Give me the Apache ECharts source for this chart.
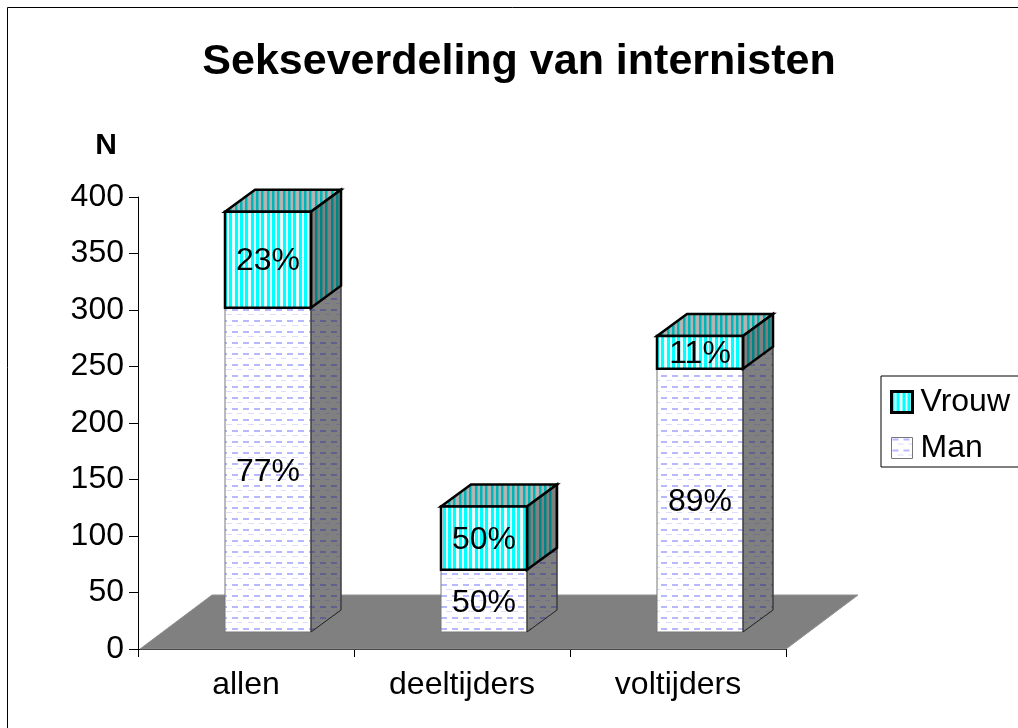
<!DOCTYPE html>
<html><head><meta charset="utf-8">
<style>html,body{margin:0;padding:0;background:#fff}#c{width:1018px;height:728px}</style>
<script src="https://cdn.jsdelivr.net/npm/echarts@6/dist/echarts.min.js"></script>
</head><body><div id="c"></div>
<script>
const categories = ['allen', 'deeltijders', 'voltijders'];
const manValues = [287, 55, 233];
const vrouwValues = [85, 56, 29];
const manLabels = ['77%', '50%', '89%'];
const vrouwLabels = ['23%', '50%', '11%'];
const yTicks = [0, 50, 100, 150, 200, 250, 300, 350, 400];

const FONT = '"Liberation Sans", Arial, sans-serif';
function stripes(a, b, w) {
  const c = document.createElement('canvas'); c.width = 16; c.height = 4;
  const g = c.getContext('2d');
  g.fillStyle = b; g.fillRect(0, 0, 16, 4);
  g.fillStyle = a; [0, 5, 11].forEach(x => g.fillRect(x, 0, w, 4));
  return {image: c, repeat: 'repeat'};
}
function dashes(bg, d1, d2) {
  const c = document.createElement('canvas'); c.width = 22; c.height = 11;
  const g = c.getContext('2d');
  g.fillStyle = bg; g.fillRect(0, 0, 22, 11);
  g.fillStyle = d1; g.fillRect(1, 1, 6, 2); g.fillRect(12, 1, 6, 2);
  g.fillStyle = d2; g.fillRect(6, 6, 6, 1); g.fillRect(17, 6, 5, 1);
  return {image: c, repeat: 'repeat'};
}
const vrouwFront = stripes('#00ffff', '#e4ffff', 3);
const vrouwTop = stripes('#00b5b5', '#b4b4b4', 2.5);
const vrouwSide = stripes('#008484', '#808080', 2.5);
const manFront = dashes('#ffffff', '#b8b8ff', '#dcdcff');
const manSide = dashes('#808080', '#606090', '#727090');

const BAR_W = 86, DX = 30, DY = -22, SHIFT_X = 22, SHIFT_Y = -17;

function barRender(front, top, side, border, lw, labels, edge) {
  return function (params, api) {
    const i = api.value(0);
    const p0 = api.coord([i, api.value(1)]);
    const p1 = api.coord([i, api.value(2)]);
    const l = p0[0] + SHIFT_X - BAR_W / 2, r = l + BAR_W;
    const b = p0[1] + SHIFT_Y, t = p1[1] + SHIFT_Y;
    const st = (fill, c, w) => ({fill, stroke: c, lineWidth: w, lineJoin: 'miter'});
    const children = [
      {type: 'polygon', shape: {points: [[l, t], [r, t], [r + DX, t + DY], [l + DX, t + DY]]}, style: st(top, border, lw)},
      {type: 'polygon', shape: {points: [[r, b], [r + DX, b + DY], [r + DX, t + DY], [r, t]]}, style: st(side, border, lw)},
      {type: 'rect', shape: {x: l, y: t, width: BAR_W, height: b - t}, style: st(front, border, lw)}
    ];
    if (edge) children.push({type: 'polyline', shape: {points: [[r + DX, t + DY], [r + DX, b + DY], [r, b], [r, t]]}, style: {fill: null, stroke: edge, lineWidth: 1}});
    children.push({type: 'text', x: (l + r) / 2, y: (t + b) / 2 + 2, style: {text: labels[i], fill: '#000', font: '32px ' + FONT, align: 'center', verticalAlign: 'middle'}});
    return {type: 'group', children};
  };
}
function floorRender(params, api) {
  const o = api.coord([0, 0]), e = api.coord([categories.length - 1, 0]), w = api.size([1, 0])[0];
  const l = o[0] - w / 2, r = e[0] + w / 2, y = o[1];
  return {type: 'polygon', shape: {points: [[l + 2, y], [r, y], [r + 72, y - 54], [l + 74, y - 54]]}, style: {fill: '#808080', stroke: '#909090', lineWidth: 1}};
}

const chart = echarts.init(document.getElementById('c'), null, {renderer: 'canvas'});
chart.setOption({
  animation: false,
  backgroundColor: '#fff',
  title: {text: 'Sekseverdeling van internisten', left: 514, top: 36, textAlign: 'center',
    textStyle: {fontFamily: FONT, fontSize: 43, fontWeight: 'bold', color: '#000'}},
  grid: {left: 138, right: 232, top: 197, bottom: 79},
  legend: {
    orient: 'vertical', left: 881, top: 376, padding: [10, 40, 3, 9],
    itemWidth: 21, itemHeight: 21, itemGap: 14, selectedMode: false,
    borderColor: '#000', borderWidth: 1,
    textStyle: {fontFamily: FONT, fontSize: 32, color: '#000', padding: [0, 0, 0, 3]},
    data: [
      {name: 'Vrouw', icon: 'rect', itemStyle: {color: vrouwFront, borderColor: '#000', borderWidth: 3}},
      {name: 'Man', icon: 'rect', itemStyle: {color: manFront, borderColor: '#777', borderWidth: 1}}
    ]
  },
  xAxis: {type: 'category', data: categories,
    axisLine: {show: true, lineStyle: {color: '#000', width: 1}},
    axisTick: {show: true, length: 8, lineStyle: {color: '#000'}, alignWithLabel: false, interval: 0},
    axisLabel: {fontFamily: FONT, fontSize: 32, color: '#000', margin: 20, interval: 0}},
  yAxis: {type: 'value', min: 0, max: yTicks[yTicks.length - 1], interval: 50,
    name: 'N', nameLocation: 'end', nameGap: 36,
    nameTextStyle: {fontFamily: FONT, fontSize: 30, fontWeight: 'bold', color: '#000', align: 'center', padding: [0, 64, 0, 0]},
    splitLine: {show: false},
    axisLine: {show: true, onZero: false, lineStyle: {color: '#000', width: 1}},
    axisTick: {show: true, length: 9, lineStyle: {color: '#000'}},
    axisLabel: {fontFamily: FONT, fontSize: 32, color: '#000', margin: 14, padding: [3, 0, 0, 0]}},
  series: [
    {type: 'custom', name: 'floor', silent: true, clip: false, renderItem: floorRender, data: [[0, 0]], encode: {x: 0, y: 1}, z: 1},
    {type: 'custom', name: 'Man', clip: false, z: 2, renderItem: barRender(manFront, manFront, manSide, '#777', 1, manLabels, '#222'),
      encode: {x: 0, y: [1, 2]},
      data: manValues.map((v, i) => [i, 0, v])},
    {type: 'custom', name: 'Vrouw', clip: false, z: 3, renderItem: barRender(vrouwFront, vrouwTop, vrouwSide, '#000', 2.5, vrouwLabels, null),
      encode: {x: 0, y: [1, 2]},
      data: vrouwValues.map((v, i) => [i, manValues[i], manValues[i] + v])}
  ],
  graphic: [{type: 'polyline', silent: true, z: 100, shape: {points: [[7.5, 728], [7.5, 7.5], [1018, 7.5]]}, style: {fill: null, stroke: '#000', lineWidth: 1}}]
});
</script></body></html>
